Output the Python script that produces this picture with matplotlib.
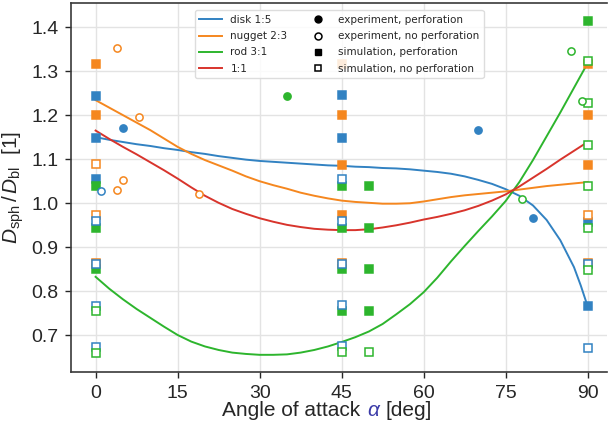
import matplotlib
matplotlib.use("Agg")
import matplotlib.pyplot as plt
from matplotlib.lines import Line2D
from matplotlib.offsetbox import TextArea, HPacker, AnchoredOffsetbox

# fitted curves (every 2.5 deg)
fit_angles = [0, 2.5, 5, 7.5, 10, 12.5, 15, 17.5, 20, 22.5, 25, 27.5, 30, 32.5, 35, 37.5,
              40, 42.5, 45, 47.5, 50, 52.5, 55, 57.5, 60, 62.5, 65, 67.5, 70, 72.5, 75,
              77.5, 80, 82.5, 85, 87.5, 90]
nugget_fit = [1.234, 1.217, 1.200, 1.183, 1.166, 1.147, 1.128, 1.112, 1.098, 1.086, 1.074,
              1.061, 1.050, 1.041, 1.033, 1.024, 1.017, 1.011, 1.006, 1.003, 1.001, 0.999,
              0.999, 1.000, 1.004, 1.009, 1.014, 1.018, 1.021, 1.024, 1.027, 1.031, 1.035,
              1.039, 1.042, 1.045, 1.048]
rod_fit = [0.833, 0.806, 0.782, 0.760, 0.740, 0.720, 0.701, 0.686, 0.675, 0.667, 0.661,
           0.658, 0.656, 0.656, 0.657, 0.661, 0.667, 0.675, 0.685, 0.696, 0.709, 0.726,
           0.748, 0.771, 0.798, 0.831, 0.868, 0.903, 0.937, 0.970, 1.005, 1.048, 1.098,
           1.152, 1.206, 1.262, 1.318]
cube_fit = [1.165, 1.146, 1.128, 1.111, 1.093, 1.075, 1.056, 1.036, 1.017, 1.001, 0.987,
            0.976, 0.966, 0.958, 0.951, 0.946, 0.942, 0.940, 0.939, 0.939, 0.941, 0.945,
            0.950, 0.956, 0.963, 0.969, 0.976, 0.984, 0.994, 1.006, 1.020, 1.038, 1.058,
            1.078, 1.099, 1.119, 1.139]
disk_angles = fit_angles[:-1] + [88.75, 90]
disk_fit = [1.150, 1.144, 1.139, 1.134, 1.130, 1.125, 1.121, 1.116, 1.112, 1.107, 1.103,
            1.099, 1.096, 1.094, 1.092, 1.090, 1.088, 1.086, 1.085, 1.083, 1.082, 1.080,
            1.079, 1.077, 1.074, 1.071, 1.067, 1.061, 1.053, 1.044, 1.032, 1.017, 0.995,
            0.962, 0.916, 0.855, 0.813, 0.766]

# simulation points
disk_sim_perf_a = [0, 0, 0, 45, 45, 90, 90]
disk_sim_perf_v = [1.243, 1.149, 1.054, 1.245, 1.148, 0.958, 0.766]
disk_sim_open_a = [0, 0, 0, 0, 45, 45, 45, 45, 45, 90, 90]
disk_sim_open_v = [0.960, 0.862, 0.767, 0.673, 1.055, 0.959, 0.862, 0.770, 0.675, 0.862, 0.672]
nugget_sim_perf_a = [0, 0, 45, 45, 45, 45, 90, 90, 90]
nugget_sim_perf_v = [1.315, 1.200, 1.315, 1.200, 1.087, 0.973, 1.315, 1.200, 1.087]
nugget_sim_open_a = [0, 0, 0, 45, 90, 90]
nugget_sim_open_v = [1.088, 0.973, 0.864, 0.864, 0.973, 0.864]
rod_sim_perf_a = [0, 0, 0, 45, 45, 45, 45, 50, 50, 50, 50, 90]
rod_sim_perf_v = [1.039, 0.944, 0.850, 1.039, 0.944, 0.850, 0.755, 1.039, 0.944, 0.850, 0.755, 1.414]
rod_sim_open_a = [0, 0, 45, 50, 90, 90, 90, 90, 90, 90]
rod_sim_open_v = [0.755, 0.660, 0.662, 0.662, 1.323, 1.228, 1.133, 1.039, 0.944, 0.849]

# experiment points
disk_exp_perf_a = [5, 70, 80]
disk_exp_perf_v = [1.171, 1.166, 0.967]
disk_exp_open_a = [1]
disk_exp_open_v = [1.027]
nugget_exp_open_a = [4, 8, 5, 4, 19]
nugget_exp_open_v = [1.353, 1.196, 1.052, 1.030, 1.022]
rod_exp_perf_a = [35]
rod_exp_perf_v = [1.243]
rod_exp_open_a = [87, 89, 78]
rod_exp_open_v = [1.346, 1.232, 1.009]

x_ticks = [0, 15, 30, 45, 60, 75, 90]
y_ticks = [0.7, 0.8, 0.9, 1.0, 1.1, 1.2, 1.3, 1.4]

BLUE = "#3282c2"
ORANGE = "#f5871f"
GREEN = "#2db52d"
RED = "#d8342c"
TXT = "#262626"

plt.rcParams["mathtext.fontset"] = "custom"
plt.rcParams["mathtext.rm"] = "Liberation Sans"
plt.rcParams["mathtext.it"] = "Liberation Sans:italic"

fig = plt.figure(figsize=(6.1, 4.3), dpi=100)
ax = fig.add_axes([71 / 610, 58 / 430, 536 / 610, 369 / 430])

ax.grid(True, color="#e3e3e3", lw=1.0, zorder=0)
ax.set_axisbelow(True)

lw = 1.4
ax.plot(disk_angles, disk_fit, color=BLUE, lw=lw, zorder=2)
ax.plot(fit_angles, nugget_fit, color=ORANGE, lw=lw, zorder=2)
ax.plot(fit_angles, rod_fit, color=GREEN, lw=lw, zorder=2)
ax.plot(fit_angles, cube_fit, color=RED, lw=lw, zorder=2)


def pts(a, v, color, marker, filled):
    ax.plot(a, v, ls="none", marker=marker, ms=5.2, mew=1.1, color=color,
            mfc=color if filled else "white", zorder=3)


pts(disk_sim_perf_a, disk_sim_perf_v, BLUE, "s", True)
pts(nugget_sim_perf_a, nugget_sim_perf_v, ORANGE, "s", True)
pts(rod_sim_perf_a, rod_sim_perf_v, GREEN, "s", True)
pts(nugget_sim_open_a, nugget_sim_open_v, ORANGE, "s", False)
pts(disk_sim_open_a, disk_sim_open_v, BLUE, "s", False)
pts(rod_sim_open_a, rod_sim_open_v, GREEN, "s", False)
pts(disk_exp_perf_a, disk_exp_perf_v, BLUE, "o", True)
pts(disk_exp_open_a, disk_exp_open_v, BLUE, "o", False)
pts(nugget_exp_open_a, nugget_exp_open_v, ORANGE, "o", False)
pts(rod_exp_perf_a, rod_exp_perf_v, GREEN, "o", True)
pts(rod_exp_open_a, rod_exp_open_v, GREEN, "o", False)

ax.set_xlim(-4.5, 93.54)
ax.set_ylim(0.617, 1.4545)
ax.set_xticks(x_ticks)
ax.set_yticks(y_ticks)
ax.set_xticklabels([str(t) for t in x_ticks])
ax.set_yticklabels([f"{t:.1f}" for t in y_ticks])
ax.tick_params(labelsize=14, colors=TXT, length=4, width=1, pad=5)
for lab in ax.get_xticklabels() + ax.get_yticklabels():
    lab.set_family("Liberation Sans")
for s in ["left", "bottom", "top"]:
    ax.spines[s].set_color("#3a3a3a")
    ax.spines[s].set_linewidth(1.2)
ax.spines["right"].set_visible(False)

ax.set_ylabel(r"$D_{\mathrm{sph}}\,/\,D_{\mathrm{bl}}$  [1]", fontsize=15,
              family="Liberation Sans", color=TXT, labelpad=4)

# x label with coloured alpha
tp = dict(fontsize=15, family="Liberation Sans", color=TXT)
parts = [TextArea("Angle of attack", textprops=tp),
         TextArea("α", textprops=dict(fontsize=15, family="Liberation Sans",
                                      style="italic", color="#3b3ba8")),
         TextArea("[deg]", textprops=tp)]
box = HPacker(children=parts, align="baseline", pad=0, sep=5)
anch = AnchoredOffsetbox(loc="upper center", child=box, pad=0, borderpad=0,
                         frameon=False, bbox_to_anchor=(327 / 610, 1 - 401 / 430),
                         bbox_transform=fig.transFigure)
fig.add_artist(anch)

handles = [Line2D([], [], color=BLUE, lw=lw),
           Line2D([], [], color=ORANGE, lw=lw),
           Line2D([], [], color=GREEN, lw=lw),
           Line2D([], [], color=RED, lw=lw),
           Line2D([], [], ls="none", marker="o", ms=5, color="black"),
           Line2D([], [], ls="none", marker="o", ms=5, color="black", mfc="white", mew=1.1),
           Line2D([], [], ls="none", marker="s", ms=5, color="black"),
           Line2D([], [], ls="none", marker="s", ms=5, color="black", mfc="white", mew=1.1)]
labels = ["disk 1:5", "nugget 2:3", "rod 3:1", "1:1",
          "experiment, perforation", "experiment, no perforation",
          "simulation, perforation", "simulation, no perforation"]
leg = ax.legend(handles, labels, ncol=2, loc="upper center", fontsize=7.5,
                frameon=True, framealpha=0.85, edgecolor="#d8d8d8",
                borderaxespad=0.7, columnspacing=1.8, handlelength=2.2,
                labelspacing=0.6, borderpad=0.45)
leg.set_zorder(5)
for t in leg.get_texts():
    t.set_color(TXT)

fig.savefig("out.png", dpi=100)
